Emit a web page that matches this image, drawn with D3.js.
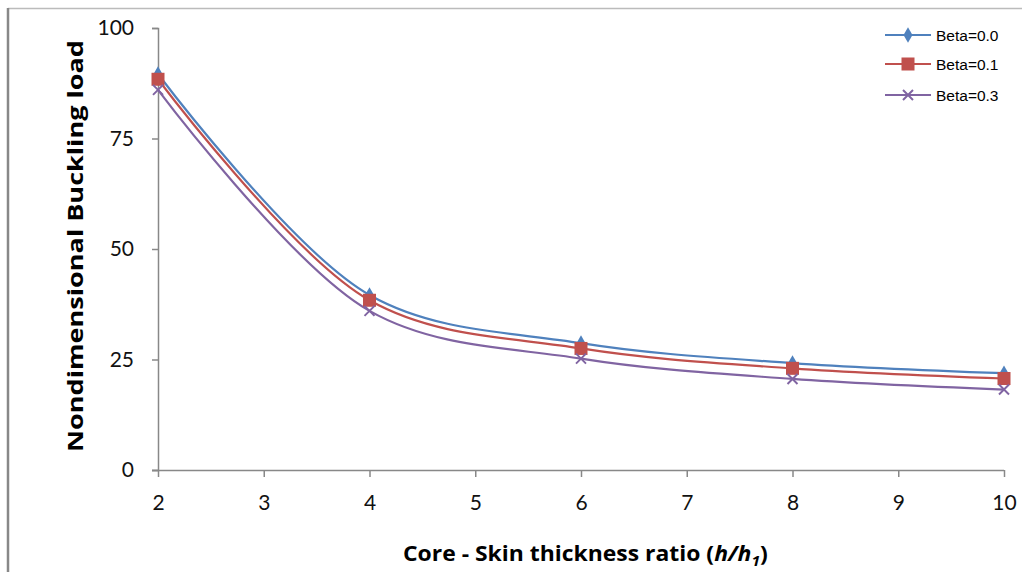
<!DOCTYPE html>
<html><head><meta charset="utf-8">
<script src="https://cdn.jsdelivr.net/npm/d3@7"></script>
<style>body{margin:0;background:#fff;}svg{display:block;}</style>
</head><body>
<svg id="c" width="1022" height="572"></svg>
<script>
const xValues = [2, 4, 6, 8, 10];
const beta00 = [89.6, 39.6, 28.7, 24.2, 21.9];
const beta01 = [88.4, 38.4, 27.5, 23.0, 20.7];
const beta03 = [86.0, 36.0, 25.2, 20.6, 18.2];
const seriesNames = ["Beta=0.0", "Beta=0.1", "Beta=0.3"];
const xTicks = [2, 3, 4, 5, 6, 7, 8, 9, 10];
const yTicks = [0, 25, 50, 75, 100];

const svg = d3.select("#c");
const x = d3.scaleLinear().domain([2, 10]).range([158, 1004]);
const y = d3.scaleLinear().domain([0, 100]).range([470, 28]);
const axisColor = "#888888";
const tickFont = "Lato, 'Open Sans', sans-serif";

// border
svg.append("line").attr("x1", 8).attr("x2", 1022).attr("y1", 8.5).attr("y2", 8.5).attr("stroke", "#bbbbbb").attr("stroke-width", 1.5);
svg.append("line").attr("x1", 8).attr("x2", 8).attr("y1", 8).attr("y2", 572).attr("stroke", "#888888").attr("stroke-width", 2.5);

// axes
const yAxis = d3.axisLeft(y).tickValues(yTicks).tickSize(6).tickPadding(18);
const gy = svg.append("g").attr("transform", "translate(158,0)").call(yAxis);
const xAxis = d3.axisBottom(x).tickValues(xTicks).tickSize(7).tickPadding(18);
const gx = svg.append("g").attr("transform", "translate(0,470)").call(xAxis);
[gy, gx].forEach(g => {
  g.select(".domain").attr("stroke", axisColor).attr("stroke-width", 1.5);
  g.selectAll(".tick line").attr("stroke", axisColor).attr("stroke-width", 1.5);
  g.selectAll(".tick text").attr("fill", "#111").style("font-family", tickFont).style("font-size", "21px");
});
gx.select(".domain").attr("d", "M152,0.5H1004");

// axis titles
svg.append("text").attr("transform", "translate(83,246) rotate(-90)")
  .attr("text-anchor", "middle").style("font-family", "'Open Sans', sans-serif")
  .style("font-weight", "bold").style("font-size", "22px").attr("fill", "#000")
  .attr("textLength", 412).attr("lengthAdjust", "spacingAndGlyphs")
  .text("Nondimensional Buckling load");

const xt = svg.append("text").attr("x", 403).attr("y", 561)
  .style("font-family", "'Open Sans', sans-serif").style("font-weight", "bold")
  .style("font-size", "22px").attr("fill", "#000");
xt.append("tspan").text("Core - Skin thickness ratio (");
xt.append("tspan").style("font-style", "italic").text("h/h");
xt.append("tspan").style("font-style", "italic").style("font-size", "15px").attr("dy", 5).text("1");
xt.append("tspan").attr("dy", -5).text(")");
const bb = xt.node().getComputedTextLength();
xt.attr("transform", `translate(403,0) scale(${365 / bb},1) translate(-403,0)`);

// series
const series = [
  {name: seriesNames[0], values: beta00, color: "#4f81bd", marker: "diamond"},
  {name: seriesNames[1], values: beta01, color: "#c0504d", marker: "square"},
  {name: seriesNames[2], values: beta03, color: "#8064a2", marker: "x"}
];
const line = d3.line().x((d, i) => x(xValues[i])).y(d => y(d)).curve(d3.curveCatmullRom.alpha(0.5));

function drawMarker(g, type, cx, cy, color) {
  if (type === "diamond") {
    g.append("path").attr("d", d3.symbol(d3.symbolDiamond, 70)()).attr("transform", `translate(${cx},${cy})`).attr("fill", color);
  } else if (type === "square") {
    g.append("rect").attr("x", cx - 6.5).attr("y", cy - 6.5).attr("width", 13).attr("height", 13).attr("fill", color);
  } else {
    g.append("path").attr("d", `M${cx-5},${cy-5}L${cx+5},${cy+5}M${cx-5},${cy+5}L${cx+5},${cy-5}`).attr("stroke", color).attr("stroke-width", 2).attr("fill", "none");
  }
}

series.forEach(s => {
  svg.append("path").datum(s.values).attr("d", line).attr("fill", "none").attr("stroke", s.color).attr("stroke-width", 2.2);
});
series.forEach(s => {
  const g = svg.append("g");
  s.values.forEach((v, i) => drawMarker(g, s.marker, x(xValues[i]), y(v), s.color));
});

// legend
const legendY = [35, 64, 95];
series.forEach((s, i) => {
  const g = svg.append("g");
  g.append("line").attr("x1", 885).attr("x2", 931).attr("y1", legendY[i]).attr("y2", legendY[i]).attr("stroke", s.color).attr("stroke-width", 2.2);
  drawMarker(g, s.marker, 908, legendY[i], s.color);
  g.append("text").attr("x", 936).attr("y", legendY[i] + 6).style("font-family", "'Liberation Sans', Arial, sans-serif")
    .style("font-size", "15.5px").attr("fill", "#000").text(s.name);
});
</script>
</body></html>
